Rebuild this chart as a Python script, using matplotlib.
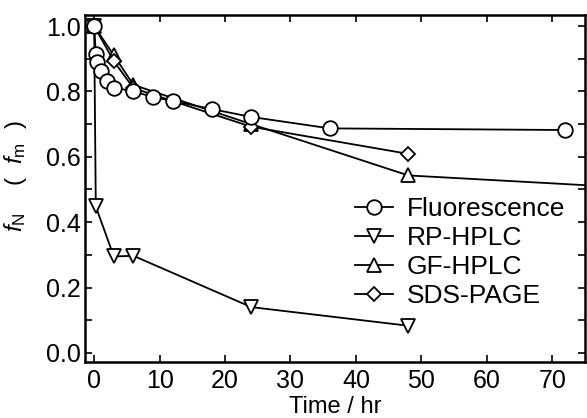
import matplotlib
matplotlib.use("Agg")
import matplotlib.pyplot as plt
from matplotlib.ticker import MultipleLocator

plt.rcParams['font.family'] = ['Liberation Sans', 'DejaVu Sans']
plt.rcParams['mathtext.fontset'] = 'custom'
plt.rcParams['mathtext.rm'] = 'Liberation Sans'
plt.rcParams['mathtext.it'] = 'Liberation Sans:italic'

fluor_t = [0, 0.25, 0.5, 1, 2, 3, 6, 9, 12, 18, 24, 36, 72]
fluor_f = [1.0, 0.916, 0.889, 0.862, 0.831, 0.812, 0.80, 0.783, 0.771, 0.746, 0.722, 0.687, 0.682]

rp_t = [0, 0.25, 3, 6, 24, 48]
rp_f = [1.0, 0.448, 0.295, 0.297, 0.14, 0.083]

gf_t = [0, 3, 6, 24, 48, 96]
gf_f = [1.0, 0.911, 0.82, 0.70, 0.543, 0.49]

sds_t = [0, 3, 6, 24, 48]
sds_f = [1.0, 0.893, 0.81, 0.692, 0.609]

labels = ["Fluorescence", "RP-HPLC", "GF-HPLC", "SDS-PAGE"]

FS = 18
LFS = 19

fig = plt.figure(figsize=(5.87, 4.18), dpi=100)
ax = fig.add_axes([85/587, 1-362/418, (585-85)/587, (362-15)/418])

common = dict(color='black', lw=1.3, mfc='white', mec='black', mew=1.3)
ax.plot(rp_t, rp_f, marker='v', ms=10, label=labels[1], zorder=2, **common)
ax.plot(gf_t, gf_f, marker='^', ms=10, label=labels[2], zorder=2, **common)
ax.plot(sds_t, sds_f, marker='D', ms=7.5, label=labels[3], zorder=2, **common)
ax.plot(fluor_t, fluor_f, marker='o', ms=10.5, label=labels[0], zorder=3, **common)

ax.set_xlim(-1.4, 75)
ax.set_ylim(-0.028, 1.034)
ax.xaxis.set_major_locator(MultipleLocator(10))
ax.yaxis.set_major_locator(MultipleLocator(0.2))
ax.yaxis.set_minor_locator(MultipleLocator(0.1))
ax.tick_params(which='both', direction='in', top=True, right=True, length=5, width=1.2, labelsize=FS)
ax.tick_params(axis='x', pad=5)
ax.tick_params(axis='y', pad=3)
ax.yaxis.set_major_formatter(matplotlib.ticker.FormatStrFormatter('%.1f'))
for s in ax.spines.values():
    s.set_linewidth(1.8)

ax.set_xlabel("Time / hr", fontsize=17, labelpad=2)
ax.set_ylabel(r"$f_{\mathrm{N}}$    (  $f_{\mathrm{m}}$  )", fontsize=17.5)
ax.yaxis.set_label_coords(-0.112, 0.535)

h, l = ax.get_legend_handles_labels()
order = [3, 0, 1, 2]
ax.legend([h[i] for i in order], [l[i] for i in order], loc='lower right',
          bbox_to_anchor=(0.96, 0.155), frameon=False, fontsize=LFS,
          handlelength=1.45, handletextpad=0.5, labelspacing=0.19, borderaxespad=0,
          borderpad=0)

fig.savefig("out.png", dpi=100)
